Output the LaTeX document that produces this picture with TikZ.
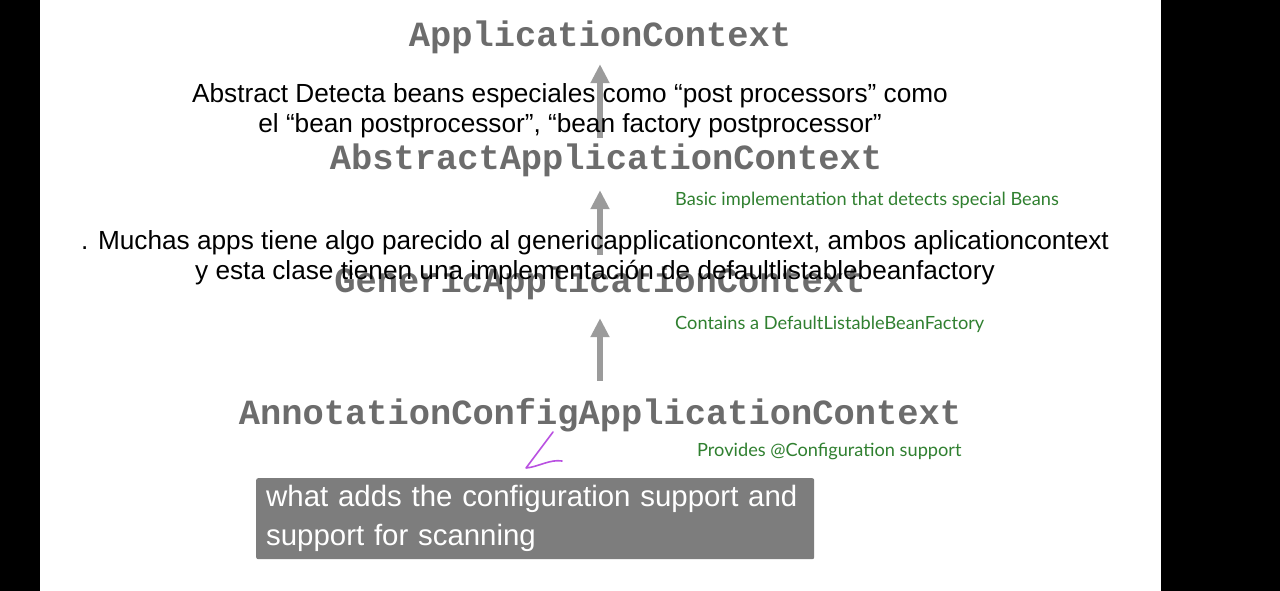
\documentclass[tikz,border=0pt]{standalone}
\usepackage{fontspec}
\setmainfont{Liberation Sans}
\newfontfamily\classfont{Liberation Mono}
\newfontfamily\handfont{Lato}
\usepackage{xcolor}
\usetikzlibrary{arrows.meta,positioning}
\definecolor{classgray}{RGB}{108,108,108}
\definecolor{arrowgray}{RGB}{155,155,155}
\definecolor{notegreen}{RGB}{48,128,48}
\definecolor{captiongray}{RGB}{125,125,125}
\definecolor{penpurple}{RGB}{185,80,225}

\begin{document}
\begin{tikzpicture}[x=1pt, y=-1pt,
          classname/.style={inner sep=0pt, text height=24pt, text depth=7pt,
                            text=classgray,
                            font=\classfont\bfseries\fontsize{35.4}{40}\selectfont},
          uparrow/.style={draw=arrowgray, line width=6pt,
                          -{Triangle[length=19pt, width=18pt]}},
          overlay/.style={inner sep=0pt, align=center,
                          font=\fontsize{26.2}{30}\selectfont},
          handnote/.style={inner sep=0pt, anchor=base west, text=notegreen,
                           font=\handfont\fontsize{18.2}{20}\selectfont},
          caption/.style={fill=captiongray, rounded corners=2pt, text=white,
                          text width=538pt, align=left, inner xsep=10pt,
                          minimum height=81pt,
                          font=\fontsize{29.4}{39}\selectfont}]
        % page with the dark side bars
        \useasboundingbox (0,0) rectangle (1280,591);
        \fill[black] (0,0) rectangle (1280,591);
        \fill[white] (40,0) rectangle (1161,591);

        % class hierarchy
        \node[classname, anchor=base] (appctx)   at (600,47)  {ApplicationContext};
        \node[classname, anchor=base] (abstract) at (606,170) {AbstractApplicationContext};
        \node[classname, anchor=base] (generic)  at (600,292) {GenericApplicationContext};
        \node[classname, anchor=base] (annot)    at (600,424) {AnnotationConfigApplicationContext};

        \draw[uparrow, shorten <=8pt,  shorten >=10pt] (abstract.north -| appctx) -- (appctx.south);
        \draw[uparrow, shorten <=13pt, shorten >=13pt] (generic.north) -- (abstract.south -| generic);
        \draw[uparrow, shorten <=19pt, shorten >=19pt] (annot.north) -- (generic.south);

        % green remarks
        \node[handnote] (basicnote)    at (675,205) {Basic implementation that detects special Beans};
        \node[handnote] (containsnote) at (675,329) {Contains a DefaultListableBeanFactory};
        \node[handnote] (providesnote) at (697,456) {Provides @Configuration support};

        % handwritten pen mark
        \draw[penpurple, line width=1.6pt, line cap=round, line join=round]
          (553,432) -- (526,468) .. controls (538,467) and (550,459) .. (562,461);

        % overlaid comments
        \node[overlay] (abstractnote) at (570,110.5) {Abstract Detecta beans especiales como “post processors” como\\
          el “bean postprocessor”, “bean factory postprocessor”};
        \node[overlay] (genericnote) at (595,257.5) {. Muchas apps tiene algo parecido al genericapplicationcontext, ambos aplicationcontext\\
          y esta clase tienen una implementación de defaultlistablebeanfactory};

        \node[caption, anchor=north west] (scanbox) at (256,478) {what adds the configuration support and\\
          support for scanning};
      \end{tikzpicture}
\end{document}
